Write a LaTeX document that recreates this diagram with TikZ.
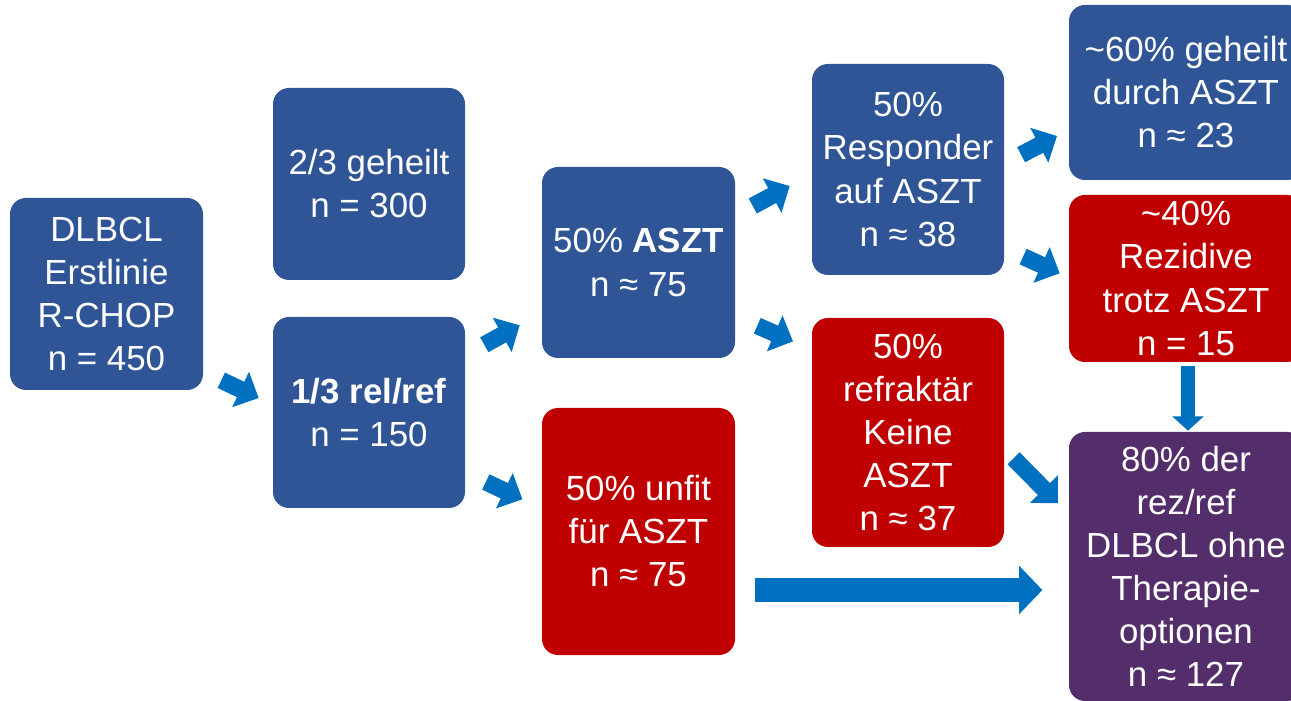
\documentclass[tikz,border=0pt]{standalone}
\usepackage{fontspec}
\setmainfont{Liberation Sans}
\usetikzlibrary{arrows.meta,calc}
\definecolor{boxblue}{RGB}{47,85,151}
\definecolor{boxred}{RGB}{192,0,0}
\definecolor{boxpurple}{RGB}{83,46,107}
\definecolor{arrowblue}{RGB}{0,112,192}
\begin{document}
\begin{tikzpicture}[x=0.025cm,y=-0.025cm,
  every node/.style={text=white, align=center, inner sep=0pt, rounded corners=0.4cm,
    font=\fontsize{24.8}{30.6}\selectfont},
  bluebox/.style={fill=boxblue},
  redbox/.style={fill=boxred},
  purplebox/.style={fill=boxpurple},
  boxsize/.style 2 args={minimum width=#1*0.025cm, minimum height=#2*0.025cm},
  blockarrow/.style={draw=arrowblue, line width=0.425cm, -{Triangle[length=0.5cm,width=0.95cm]}},
  thinarrow/.style={draw=arrowblue, line width=0.36cm, -{Triangle[length=0.36cm,width=0.77cm]}},
  widearrow/.style={draw=arrowblue, line width=0.58cm, -{Triangle[length=0.58cm,width=1.17cm]}}]
\useasboundingbox (0,0) rectangle (1291,701);
\clip (0,0) rectangle (1291,701);
\node[bluebox,boxsize={193}{192}] (dlbcl) at (106.5,294) {DLBCL\\Erstlinie\\R-CHOP\\n = 450};
\node[bluebox,boxsize={192}{192}] (cured) at (369,184) {2/3 geheilt\\n = 300};
\node[bluebox,boxsize={192}{191}] (relref) at (369,412.5) {\textbf{1/3 rel/ref}\\n = 150};
\node[bluebox,boxsize={193}{191}] (aszt) at (638.5,262.5) {50\% \textbf{ASZT}\\n ≈ 75};
\node[redbox,boxsize={193}{247}] (unfit) at (638.5,531.5) {50\% unfit\\für ASZT\\n ≈ 75};
\node[bluebox,boxsize={192}{211}] (resp) at (908,169.5) {50\%\\Responder\\auf ASZT\\n ≈ 38};
\node[redbox,boxsize={192}{229}] (refr) at (908,432.5) {50\%\\refraktär\\Keine\\ASZT\\n ≈ 37};
\node[bluebox,boxsize={234}{175}] (heal) at (1186,92.5) {\textasciitilde60\% geheilt\\durch ASZT\\n ≈ 23};
\node[redbox,boxsize={234}{167}] (rez) at (1186,278.5) {\textasciitilde40\%\\Rezidive\\trotz ASZT\\n = 15};
\node[purplebox,boxsize={234}{269}] (noopt) at (1186,566.5) {80\% der\\rez/ref\\DLBCL ohne\\Therapie-\\optionen\\n ≈ 127};
\draw[blockarrow] ($(dlbcl.south east)+(18,-10)$) -- ($(relref.west)+(-14,-14.5)$);
\draw[blockarrow] ($(relref.north east)+(19,28)$) -- ($(aszt.south west)+(-22,-33)$);
\draw[blockarrow] ($(relref.south east)+(20.5,-26.3)$) -- ($(unfit.west)+(-19.3,-32.2)$);
\draw[blockarrow] ($(aszt.north east)+(17.5,39.3)$) -- ($(resp.west)+(-22,16.5)$);
\draw[blockarrow] ($(aszt.south east)+(22,-32.5)$) -- ($(refr.north west)+(-18.7,23.7)$);
\draw[blockarrow] ($(resp.east)+(16.8,-14.8)$) -- ($(heal.west)+(-11.7,43.5)$);
\draw[blockarrow] ($(resp.south east)+(18.8,-18.7)$) -- ($(rez.west)+(-9,-5.2)$);
\draw[blockarrow] ($(refr.east)+(9.3,25.8)$) -- ($(noopt.west)+(-10.7,-63.2)$);
\draw[thinarrow] ($(rez.south)+(2,4)$) -- ($(noopt.north)+(2,-1)$);
\draw[widearrow] ($(unfit.east)+(20,58.5)$) -- ($(noopt.west)+(-26.3,23.5)$);
\end{tikzpicture}
\end{document}
